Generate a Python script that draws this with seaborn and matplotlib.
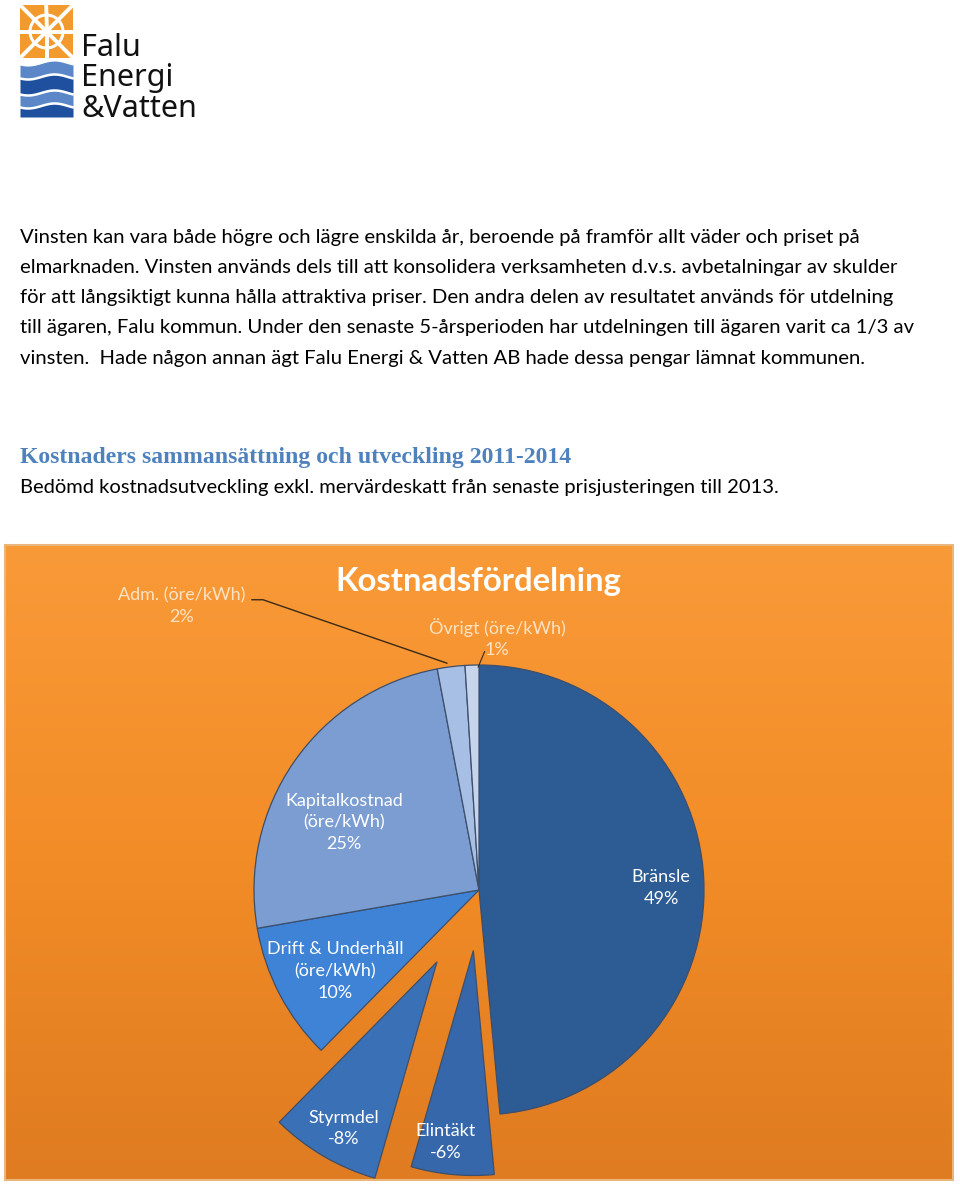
import numpy as np
import matplotlib
matplotlib.use('Agg')
import matplotlib.pyplot as plt
import matplotlib.patches as mpatches
from matplotlib.colors import LinearSegmentedColormap
import seaborn as sns

sns.set_theme(style='white')
plt.rcParams['font.family'] = ['Lato', 'DejaVu Sans']

# slice data, clockwise from the top
categories = ['Bränsle', 'Elintäkt', 'Styrmdel', 'Drift & Underhåll\n(öre/kWh)',
              'Kapitalkostnad\n(öre/kWh)', 'Adm. (öre/kWh)', 'Övrigt (öre/kWh)']
shares = [49, -6, -8, 10, 25, 2, 1]
slice_colors = ['#2d5b94', '#3567aa', '#3a70b6', '#3e83d6', '#7b9dd2', '#a8bfe5', '#c6d4ec']

body_lines = [
    'Vinsten kan vara både högre och lägre enskilda år, beroende på framför allt väder och priset på',
    'elmarknaden. Vinsten används dels till att konsolidera verksamheten d.v.s. avbetalningar av skulder',
    'för att långsiktigt kunna hålla attraktiva priser. Den andra delen av resultatet används för utdelning',
    'till ägaren, Falu kommun. Under den senaste 5-årsperioden har utdelningen till ägaren varit ca 1/3 av',
    'vinsten.  Hade någon annan ägt Falu Energi & Vatten AB hade dessa pengar lämnat kommunen.',
]
heading = 'Kostnaders sammansättning och utveckling 2011-2014'
subheading = 'Bedömd kostnadsutveckling exkl. mervärdeskatt från senaste prisjusteringen till 2013.'
chart_title = 'Kostnadsfördelning'

fig = plt.figure(figsize=(9.6, 11.88), dpi=100)
fig.patch.set_facecolor('white')

# page layer in pixel coordinates
bg = fig.add_axes([0, 0, 1, 1])
bg.axis('off')

# logo: sun
sq = mpatches.Rectangle((20, 5), 53, 53, facecolor='#f39a2e', edgecolor='none')
bg.add_patch(sq)
cx, cy = 46.5, 31.5
for a in np.arange(0, 360, 45):
    ln, = bg.plot([cx, cx + 45 * np.cos(np.radians(a))], [cy, cy + 45 * np.sin(np.radians(a))],
                  color='white', lw=2.8, solid_capstyle='butt')
    ln.set_clip_path(sq)
bg.add_patch(mpatches.Circle((cx, cy), 18, facecolor='white', edgecolor='none'))
bg.add_patch(mpatches.Circle((cx, cy), 15, facecolor='#f39a2e', edgecolor='none'))

# logo: waves
wx = np.linspace(20, 73, 100)
wave = 2.5 * np.sin(2 * np.pi * (wx - 20) / 53 + 0.6)
bands = [(63, 76, '#5b87c9'), (76, 92, '#1f4f9f'), (92, 105, '#5b87c9'), (105, 117, '#1f4f9f')]
for top, bot, col in bands:
    bg.fill_between(wx, top + wave, bot + (wave if bot < 117 else 0), color=col, lw=0)
for yy in [63, 77, 93, 106]:
    bg.plot(wx, yy + wave, color='white', lw=1.8 if yy > 63 else 1.5)

for txt, yb in [('Falu', 56), ('Energi', 86), ('&Vatten', 117)]:
    bg.text(81, yb, txt, fontsize=22, family=['Noto Sans', 'DejaVu Sans'], color='#111111',
            va='baseline', ha='left')

# body text
for i, line in enumerate(body_lines):
    bg.text(20, 237 + 30.3 * i, line, fontsize=14.55, color='black', va='center', ha='left')
bg.text(20, 458, heading, fontsize=17.1, fontweight='bold', color='#4f81bd',
        family=['Liberation Serif', 'DejaVu Serif'], va='center', ha='left')
bg.text(20, 488, subheading, fontsize=14.5, color='black', va='center', ha='left')

# chart background
orange = LinearSegmentedColormap.from_list('orng', ['#f99a38', '#f28c27', '#df7b21'])
bg.imshow(np.linspace(0, 1, 256).reshape(-1, 1), cmap=orange, aspect='auto',
          extent=[5, 953, 1180, 545], zorder=1)
bg.add_patch(mpatches.Rectangle((5, 545), 948, 635, facecolor='none',
                                edgecolor='#e9b67c', lw=1.5, zorder=2))
bg.text(478, 582, chart_title, fontsize=23.7, fontweight='bold', color='white',
        ha='center', va='center', zorder=3)
bg.set_xlim(0, 960)
bg.set_ylim(1188, 0)

# pie
R = 225
half = 1.35
ax = fig.add_axes([(479 - half * R) / 960, (1188 - 890 - half * R) / 1188,
                   2 * half * R / 960, 2 * half * R / 1188])
ax.axis('off')
explode = [0.37 if s < 0 and abs(s) == 8 else (0.27 if s < 0 else 0) for s in shares]
wedges, _ = ax.pie(np.abs(shares), colors=slice_colors, startangle=90, counterclock=False,
                   explode=explode, radius=1.0,
                   wedgeprops=dict(edgecolor='#3d4f6b', linewidth=0.9))
ax.set_xlim(-half, half)
ax.set_ylim(-half, half)

label_pos = [(0.81, 0.01), (-0.15, -1.12), (-0.60, -1.06), (-0.64, -0.36),
             (-0.60, 0.30), (-1.32, 1.26), (0.08, 1.12)]
for name, s, (lx, ly), w in zip(categories, shares, label_pos, wedges):
    pale = name.startswith('Adm') or name.startswith('Övrigt')
    ax.text(lx, ly, '{0}\n{1}%'.format(name, s), ha='center', va='center',
            fontsize=13, color='#fde3c3' if pale else 'white', linespacing=1.45)

# leader lines
ax.plot([-1.01, -0.96, -0.142], [1.29, 1.29, 1.008], color='#3a2a1a', lw=1.0)
ax.plot([-0.004, 0.025], [0.99, 1.06], color='#3a2a1a', lw=0.8)

fig.savefig('out.png', dpi=100, facecolor='white')
